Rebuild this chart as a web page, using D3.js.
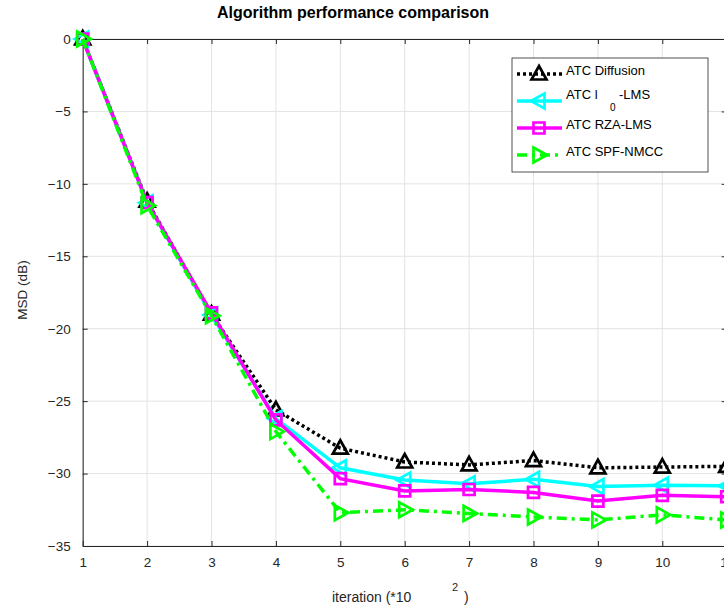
<!DOCTYPE html>
<html>
<head>
<meta charset="utf-8">
<script src="https://cdn.jsdelivr.net/npm/d3@7"></script>
<style>
  body { margin: 0; background: #fff; overflow: hidden; }
  svg { display: block; font-family: "Liberation Sans", Arial, sans-serif; }
</style>
</head>
<body>
<div id="chart"></div>
<script>
// values
const iterations = [1, 2, 3, 4, 5, 6, 7, 8, 9, 10, 11];
const atcDiffusion = [0, -11.2, -19.0, -25.6, -28.25, -29.2, -29.4, -29.1, -29.6, -29.55, -29.5];
const atcL0Lms = [0, -11.3, -19.05, -26.2, -29.6, -30.45, -30.7, -30.4, -30.9, -30.8, -30.85];
const atcRzaLms = [0, -11.3, -18.9, -26.3, -30.35, -31.2, -31.1, -31.3, -31.9, -31.5, -31.6];
const atcSpfNmcc = [0, -11.5, -19.1, -27.1, -32.7, -32.5, -32.75, -33.0, -33.2, -32.85, -33.2];
const seriesNames = ["ATC Diffusion", "ATC l0-LMS", "ATC RZA-LMS", "ATC SPF-NMCC"];
const yTicks = [-35, -30, -25, -20, -15, -10, -5, 0];

const width = 724, height = 610;
const axisColor = "#262626";
const gridColor = "#e3e3e3";

const series = [
  { values: atcDiffusion, color: "#000000", dash: "3,3", marker: "up" },
  { values: atcL0Lms, color: "#00ffff", dash: null, marker: "left" },
  { values: atcRzaLms, color: "#ff00ff", dash: null, marker: "square" },
  { values: atcSpfNmcc, color: "#00ff00", dash: "10,5,3,5", marker: "right" }
].map((s, i) => Object.assign(s, { name: seriesNames[i] }));

const svg = d3.select("#chart")
  .append("svg")
  .attr("width", width)
  .attr("height", height)
;

const x = d3.scaleLinear().domain([1, 11]).range([82.7, 726.7]);
const y = d3.scaleLinear().domain([-35, 0]).range([546, 39]);

// grid
svg.append("g")
  .selectAll("line")
  .data(iterations)
  .enter()
  .append("line")
  .attr("x1", d => x(d)).attr("x2", d => x(d))
  .attr("y1", y(0)).attr("y2", y(-35))
  .attr("stroke", gridColor)
;
svg.append("g")
  .selectAll("line")
  .data(yTicks)
  .enter()
  .append("line")
  .attr("x1", x(1)).attr("x2", x(11))
  .attr("y1", d => y(d)).attr("y2", d => y(d))
  .attr("stroke", gridColor)
;

function styleAxis(g) {
  g.select(".domain").attr("stroke", axisColor);
  g.selectAll(".tick line").attr("stroke", axisColor);
  g.selectAll(".tick text")
    .attr("fill", axisColor)
    .attr("font-size", 13.5)
    .attr("font-family", "Liberation Sans, Arial, sans-serif");
}

svg.append("g")
  .attr("transform", `translate(0,${y(-35)})`)
  .call(d3.axisBottom(x).tickValues(iterations).tickSize(-5).tickSizeOuter(0).tickPadding(11))
  .call(styleAxis)
;
svg.append("g")
  .attr("transform", `translate(0,${y(0)})`)
  .call(d3.axisTop(x).tickValues(iterations).tickSize(-5).tickSizeOuter(0).tickFormat(""))
  .call(styleAxis)
;
svg.append("g")
  .attr("transform", `translate(${x(1)},0)`)
  .call(d3.axisLeft(y).tickValues(yTicks).tickSize(-5).tickSizeOuter(0).tickPadding(12))
  .call(styleAxis)
;
svg.append("g")
  .attr("transform", `translate(${x(11)},0)`)
  .call(d3.axisRight(y).tickValues(yTicks).tickSize(-5).tickSizeOuter(0).tickFormat(""))
  .call(styleAxis)
;

function markerPath(type) {
  if (type === "up") return "M0,-8L7.5,5.5L-7.5,5.5Z";
  if (type === "left") return "M-8,0L5.5,-7.5L5.5,7.5Z";
  if (type === "right") return "M8,0L-5.5,-7.5L-5.5,7.5Z";
  return "M-5.5,-5.5H5.5V5.5H-5.5Z";
}

const line = d3.line()
  .x((d, i) => x(iterations[i]))
  .y(d => y(d))
;

series.forEach(s => {
  const g = svg.append("g");
  g.append("path")
    .attr("d", line(s.values))
    .attr("fill", "none")
    .attr("stroke", s.color)
    .attr("stroke-width", 3.5)
    .attr("stroke-dasharray", s.dash)
  ;
  g.selectAll("path.mk")
    .data(s.values)
    .enter()
    .append("path")
    .attr("class", "mk")
    .attr("transform", (d, i) => `translate(${x(iterations[i])},${y(d)})`)
    .attr("d", markerPath(s.marker))
    .attr("fill", "none")
    .attr("stroke", s.color)
    .attr("stroke-width", 2.7)
  ;
});

// legend
const legend = svg.append("g").attr("transform", "translate(512,58)");
legend.append("rect")
  .attr("width", 196)
  .attr("height", 114)
  .attr("fill", "white")
  .attr("stroke", axisColor)
  .attr("stroke-width", 0.8)
;
series.forEach((s, i) => {
  const ry = 16 + i * 27;
  const row = legend.append("g").attr("transform", `translate(0,${ry})`);
  row.append("line")
    .attr("x1", 5).attr("x2", 50)
    .attr("stroke", s.color)
    .attr("stroke-width", 3.5)
    .attr("stroke-dasharray", s.dash)
  ;
  row.append("path")
    .attr("transform", "translate(27,0)")
    .attr("d", markerPath(s.marker))
    .attr("fill", "none")
    .attr("stroke", s.color)
    .attr("stroke-width", 2.7)
  ;
  const t = row.append("text")
    .attr("x", 54)
    .attr("y", 1)
    .attr("font-size", 13)
    .attr("fill", "#000")
  ;
  if (s.name === "ATC l0-LMS") {
    t.attr("y", -2);
    t.append("tspan").text("ATC l");
    t.append("tspan").attr("x", 98).attr("dy", 12).attr("font-size", 10).text("0");
    t.append("tspan").attr("x", 107).attr("dy", -12).text("-LMS");
  } else {
    t.text(s.name);
  }
});

// title and axis labels
svg.append("text")
  .attr("x", 353)
  .attr("y", 18)
  .attr("text-anchor", "middle")
  .attr("font-size", 16)
  .attr("font-weight", "bold")
  .attr("fill", "#000")
  .text("Algorithm performance comparison")
;

const xlab = svg.append("text")
  .attr("x", 332)
  .attr("y", 602)
  .attr("font-size", 14)
  .attr("fill", axisColor)
;
xlab.append("tspan").text("iteration (*10");
xlab.append("tspan").attr("x", 452).attr("dy", -11).attr("font-size", 11).text("2");
xlab.append("tspan").attr("x", 464).attr("dy", 11).text(")");

svg.append("text")
  .attr("transform", "translate(27,290) rotate(-90)")
  .attr("text-anchor", "middle")
  .attr("font-size", 13.5)
  .attr("fill", axisColor)
  .text("MSD (dB)")
;
</script>
</body>
</html>
